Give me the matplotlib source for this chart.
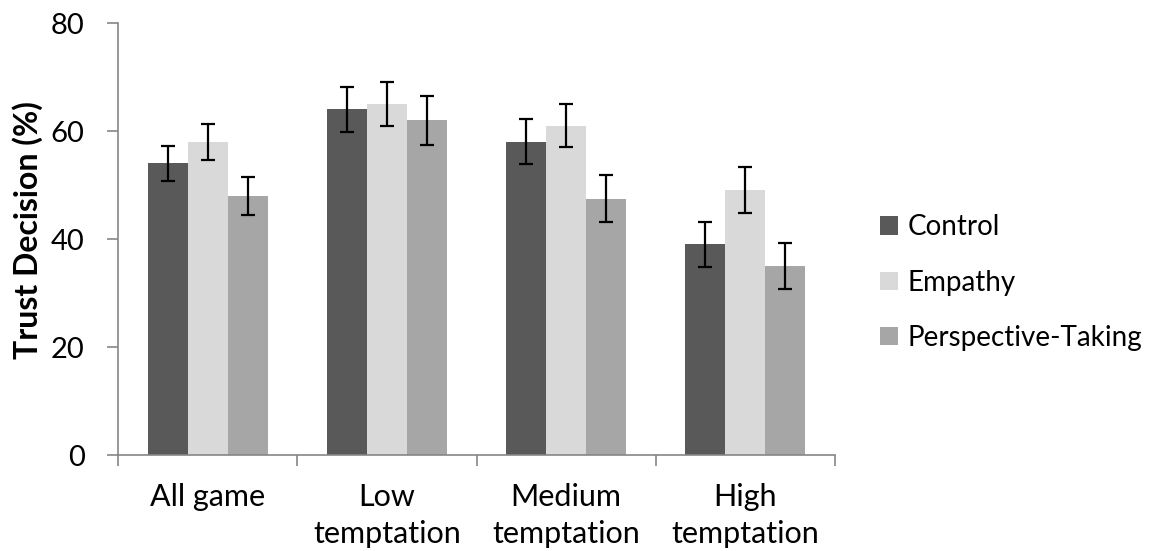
import numpy as np
import matplotlib.pyplot as plt
from matplotlib.patches import Patch

plt.rcParams['font.family'] = ['Lato', 'DejaVu Sans']

categories = ["All game", "Low\ntemptation", "Medium\ntemptation", "High\ntemptation"]
series = ["Control", "Empathy", "Perspective-Taking"]
control = [54, 64, 58, 39]
empathy = [58, 65, 61, 49]
perspective = [48, 62, 47.5, 35]
control_err = [3.2, 4.2, 4.15, 4.1]
empathy_err = [3.3, 4.05, 4.05, 4.25]
perspective_err = [3.5, 4.5, 4.4, 4.3]

colors = ["#595959", "#d9d9d9", "#a6a6a6"]
values = [control, empathy, perspective]
errors = [control_err, empathy_err, perspective_err]

fig = plt.figure(figsize=(11.57, 5.51), dpi=100)
ax = fig.add_axes([0.102, 0.1742, 0.6197, 0.7840])

x = np.arange(len(categories))
w = 0.223
for i, (vals, errs) in enumerate(zip(values, errors)):
    ax.bar(x + (i - 1) * w, vals, w, color=colors[i], edgecolor='none',
           yerr=errs, capsize=5, error_kw=dict(elinewidth=1.6, capthick=1.6, ecolor='black'),
           zorder=2)

ax.set_xlim(-0.5, len(categories) - 0.5)
ax.set_ylim(0, 80)
ax.set_yticks([0, 20, 40, 60, 80])
ax.set_xticks(x)
ax.set_xticklabels(categories, fontsize=22, linespacing=1.4, color='black')
ax.tick_params(axis='x', length=0, pad=20)
ax.set_xticks(np.arange(-0.5, len(categories)), minor=True)
ax.tick_params(axis='x', which='minor', length=8, color='#868686', width=1.2)
ax.tick_params(axis='y', labelsize=21, length=8, color='#868686', width=1.2, pad=16)

for s in ['top', 'right']:
    ax.spines[s].set_visible(False)
for s in ['left', 'bottom']:
    ax.spines[s].set_color('#868686')
    ax.spines[s].set_linewidth(1.2)

ax.set_ylabel("Trust Decision (%)", fontsize=23, fontweight='bold')
ax.yaxis.set_label_coords(-0.105, 0.52)

handles = [Patch(facecolor=c, edgecolor='none') for c in colors]
fig.legend(handles, series, loc='center left', bbox_to_anchor=(0.739, 0.487),
           frameon=False, fontsize=20, handlelength=0.65, handleheight=0.65,
           handletextpad=0.35, labelspacing=1.05)

fig.savefig("out.png", dpi=100)
